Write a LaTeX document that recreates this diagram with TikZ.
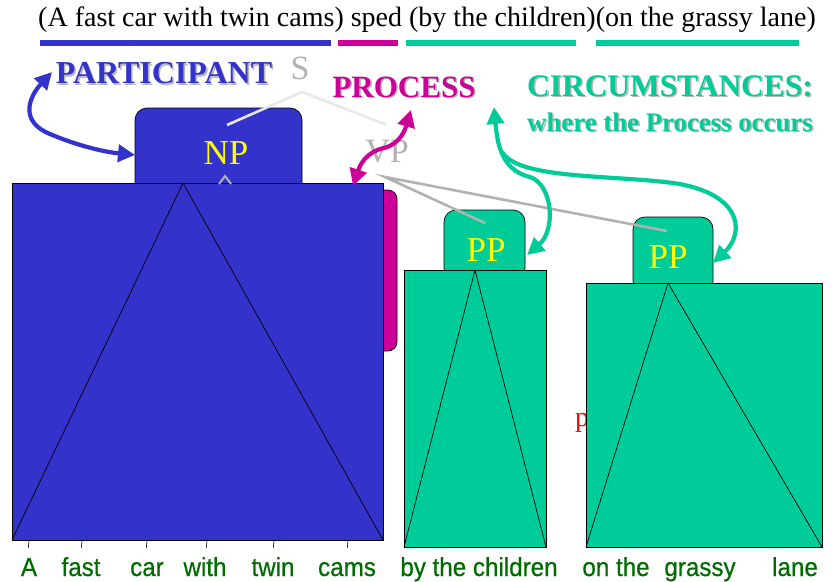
\documentclass[tikz,border=0pt]{standalone}
\usepackage{fontspec}
\setmainfont{Liberation Serif}
\newfontfamily\wordfont[FakeBold=0.6]{Liberation Sans}
\usetikzlibrary{calc, positioning, arrows.meta}
\definecolor{partblue}{HTML}{3333CC}
\definecolor{procpink}{HTML}{CC0099}
\definecolor{circgreen}{HTML}{00CC99}
\definecolor{wordgreen}{HTML}{006B00}
\definecolor{treegray}{HTML}{B2B2B2}
\definecolor{treelight}{HTML}{E8E8E8}
\definecolor{npyellow}{HTML}{FFFF00}

% role label with a soft drop shadow: name, position, colour, font, text
\newcommand{\rolelabel}[5]{%
  \node[font=#4, text=black!28] at ($#2+(1.6,1.6)$) {#5};
  \node[font=#4, text=#3] (#1) at #2 {#5};}

\begin{document}
\begin{tikzpicture}[x=1pt, y=-1pt,
  boxnd/.style={draw=black, line width=0.7pt, inner sep=0pt, outer sep=0pt, anchor=north west},
  tri/.style={draw=black, line width=0.7pt},
  catlbl/.style={text=npyellow, font=\fontsize{35}{37}\selectfont},
  treelbl/.style={text=treegray, font=\fontsize{34}{36}\selectfont},
  treeline/.style={draw=treegray, line width=2.6pt},
  wordlbl/.style={text=wordgreen, font=\wordfont\fontsize{26}{28}\selectfont, xscale=0.93, anchor=base},
  rolearrow/.style={line width=4.2pt, {Triangle[length=17pt,width=17pt]}-{Triangle[length=17pt,width=17pt]}},
  onearrow/.style={line width=4.2pt, -{Triangle[length=17pt,width=17pt]}},
  ]
\useasboundingbox (0,0) rectangle (832,581);

% sentence and its underlines
\node[font=\fontsize{28}{30}\selectfont] (sent) at (427,20) {(A fast car with twin cams) sped (by the children)(on the grassy lane)};
\fill[partblue] (40,40) rectangle (331,46);
\fill[procpink] (338,40) rectangle (398,46);
\fill[circgreen] (406,40) rectangle (576,46);
\fill[circgreen] (596,40) rectangle (799,46);

% NP and VP boxes
\node[boxnd, fill=partblue, rounded corners=12pt, minimum width=167pt, minimum height=90pt] (npbox) at (135,108) {};
\node[boxnd, fill=procpink, rounded corners=9pt, minimum width=97pt, minimum height=161pt] (vpbox) at (300,190) {};
\node[boxnd, fill=partblue, minimum width=371pt, minimum height=357pt] (npbody) at (12,183) {};
\coordinate (npapex) at (183,183);
\draw[tri] (npbody.south west) -- (npapex) -- (npbody.south east);
\foreach \x in {29,82,147,207,274,348}
  \draw[line width=0.6pt] (\x,541) -- (\x-0.7,548);

% gray caret above the NP body
\coordinate (caretL) at (219,184);
\coordinate (caretT) at (225,176);
\coordinate (caretR) at (231,184);
\draw[treeline, line width=2pt] (caretL) -- (caretT) -- (caretR);
\node[boxnd, fill=partblue, draw=none, minimum width=40pt, minimum height=6pt] at (205,184.5) {};

% PP boxes
\node[boxnd, fill=circgreen, rounded corners=12pt, minimum width=81pt, minimum height=70pt] (ppbox1) at (444,210) {};
\node[boxnd, fill=circgreen, minimum width=142pt, minimum height=277pt] (ppbody1) at (404,270) {};
\coordinate (ppapex1) at (475,270);
\draw[tri] (ppbody1.south west) -- (ppapex1) -- (ppbody1.south east);

\node[text=red, font=\fontsize{28}{30}\selectfont] (redp) at (582,423) {p};
\node[boxnd, fill=circgreen, rounded corners=12pt, minimum width=80pt, minimum height=76pt] (ppbox2) at (633,217) {};
\node[boxnd, fill=circgreen, minimum width=236pt, minimum height=264pt] (ppbody2) at (586,283) {};
\coordinate (ppapex2) at (668,283);
\draw[tri] (ppbody2.south west) -- (ppapex2) -- (ppbody2.south east);

% category labels
\node[catlbl] (np) at (226,153) {NP};
\node[catlbl] (pp1) at (486,250) {PP};
\node[catlbl] (pp2) at (668,257) {PP};

% tree lines
\node[treelbl] (S) at (300,68) {S};
\node[treelbl] (VP) at (387,152) {VP};
\coordinate (sroot) at (302,92);
\coordinate (snp) at (227,125);
\coordinate (svp) at (387,125);
\draw[treeline, draw=treelight] (snp) -- (sroot) -- (svp);
\coordinate (vproot) at (385,177);
\coordinate (vppp1) at (485,223);
\coordinate (vppp2) at (667,231);
\draw[treeline] (vppp1) -- (vproot) -- (vppp2);

% roles
\rolelabel{participant}{(164,73)}{partblue}{\fontsize{32}{34}\selectfont\bfseries}{PARTICIPANT}
\rolelabel{process}{(404,87)}{procpink}{\fontsize{31}{33}\selectfont\bfseries}{PROCESS}
\rolelabel{circ}{(670,86)}{circgreen}{\fontsize{31.4}{33}\selectfont\bfseries}{CIRCUMSTANCES:}
\rolelabel{circsub}{(670,122)}{circgreen}{\fontsize{26.8}{28}\selectfont\bfseries}{where the Process occurs}

% role arrows
\coordinate (partTip) at (52,72);
\coordinate (npTip) at (135,155);
\draw[rolearrow, partblue] (partTip) .. controls (28,98) and (20,122) .. (50,134)
  .. controls (78,146) and (105,152) .. (npTip);
\coordinate (procTip) at (411,110);
\coordinate (vpTip) at (353,186);
\draw[rolearrow, procpink] (vpTip) .. controls (360,165) and (366,152) .. (384,148)
  .. controls (400,144) and (405,130) .. (procTip);
\coordinate (circTip) at (494,107);
\coordinate (pp1Tip) at (527,255);
\coordinate (pp2Tip) at (713,263);
\coordinate (circFork) at (502,152);
\draw[rolearrow, circgreen] (circTip) .. controls (497,140) and (500,170) .. (530,177)
  .. controls (553,185) and (556,230) .. (pp1Tip);
\draw[onearrow, circgreen] (circFork) .. controls (518,178) and (600,175) .. (665,182)
  .. controls (742,190) and (746,232) .. (pp2Tip);

% words
\foreach \x/\w in {29/A, 81/fast, 147/car, 205/with, 273/twin, 347/cams,
                   479/by the children, 616/on the, 700/grassy, 795/lane}
  \node[wordlbl] (w\x) at (\x,576) {\w};
\end{tikzpicture}
\end{document}
